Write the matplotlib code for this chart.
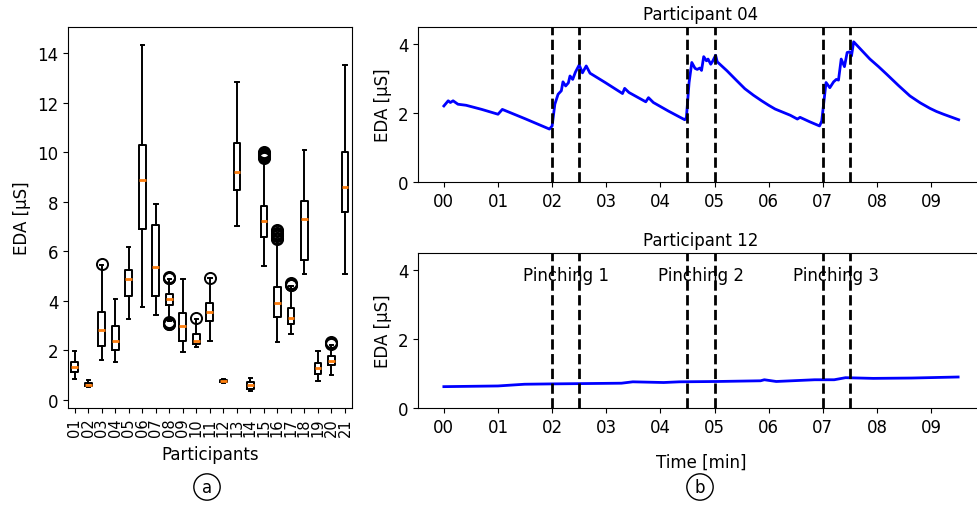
import matplotlib
matplotlib.use("Agg")
import matplotlib.pyplot as plt

# ---- (a) per-participant EDA box stats ----
participants = ["01", "02", "03", "04", "05", "06", "07", "08", "09", "10", "11",
                "12", "13", "14", "15", "16", "17", "18", "19", "20", "21"]
q1 = [1.14, 0.55, 2.19, 2.03, 4.19, 6.90, 4.19, 3.81, 2.39, 2.27, 3.19,
      0.70, 8.48, 0.44, 6.58, 3.36, 3.07, 5.66, 1.06, 1.40, 7.60]
med = [1.33, 0.60, 2.82, 2.38, 4.86, 8.89, 5.36, 4.05, 2.99, 2.39, 3.56,
       0.75, 9.20, 0.59, 7.21, 3.92, 3.29, 7.31, 1.28, 1.57, 8.61]
q3 = [1.54, 0.68, 3.54, 2.99, 5.26, 10.29, 7.04, 4.26, 3.52, 2.66, 3.89,
      0.80, 10.37, 0.72, 7.84, 4.55, 3.69, 8.03, 1.50, 1.77, 9.99]
whislo = [0.85, 0.50, 1.61, 1.54, 3.25, 3.76, 3.41, 3.20, 1.93, 2.12, 2.39,
          0.66, 7.03, 0.36, 5.40, 2.35, 2.64, 5.07, 0.77, 0.99, 5.09]
whishi = [1.97, 0.80, 5.45, 4.09, 6.17, 14.33, 7.89, 4.88, 4.89, 3.25, 4.90,
          0.85, 12.81, 0.90, 9.70, 6.45, 4.58, 10.10, 1.97, 2.22, 13.51]
fliers = [[], [], [5.50], [], [], [], [],
          [4.90, 4.93, 4.96, 3.05, 3.08, 3.11, 3.14],
          [], [3.29], [4.93], [], [], [],
          [9.78, 9.82, 9.86, 9.90, 9.94, 9.98, 10.02],
          [6.50, 6.55, 6.60, 6.65, 6.70, 6.75, 6.80, 6.85],
          [4.62, 4.65, 4.68, 4.71],
          [], [], [2.26, 2.30, 2.34], []]

# ---- (b) EDA traces ----
t04 = [0.00, 0.08, 0.12, 0.17, 0.26, 0.41, 0.70, 1.00, 1.08, 1.50, 1.95, 2.00,
       2.05, 2.11, 2.17, 2.20, 2.25, 2.30, 2.33, 2.38, 2.43, 2.50, 2.56, 2.63,
       2.70, 2.98, 3.30, 3.34, 3.42, 3.73, 3.78, 3.87, 4.15, 4.45, 4.48, 4.53,
       4.58, 4.64, 4.68, 4.73, 4.76, 4.80, 4.85, 4.88, 4.93, 4.97, 5.02, 5.05,
       5.23, 5.40, 5.56, 5.72, 5.87, 6.00, 6.12, 6.26, 6.40, 6.53, 6.58, 6.76,
       6.94, 6.98, 7.06, 7.13, 7.20, 7.25, 7.29, 7.34, 7.40, 7.45, 7.50, 7.53,
       7.57, 7.72, 7.87, 8.03, 8.18, 8.40, 8.61, 8.80, 8.98, 9.10, 9.23, 9.37,
       9.51]
eda04 = [2.21, 2.36, 2.31, 2.36, 2.26, 2.23, 2.11, 1.97, 2.11, 1.84, 1.54, 1.63,
         2.26, 2.55, 2.65, 2.91, 2.79, 2.88, 3.08, 2.98, 3.19, 3.40, 3.17, 3.37,
         3.16, 2.89, 2.57, 2.72, 2.60, 2.33, 2.45, 2.31, 2.06, 1.81, 1.87, 2.89,
         3.47, 3.30, 3.27, 3.31, 3.24, 3.64, 3.52, 3.57, 3.42, 3.52, 3.68, 3.49,
         3.23, 2.96, 2.71, 2.52, 2.36, 2.23, 2.12, 2.03, 1.94, 1.83, 1.88, 1.75,
         1.63, 1.77, 2.89, 2.74, 2.91, 2.98, 2.96, 3.57, 3.35, 3.76, 3.78, 3.66,
         4.07, 3.82, 3.57, 3.35, 3.13, 2.80, 2.50, 2.30, 2.14, 2.05, 1.97, 1.89,
         1.81]
t12 = [0.00, 1.00, 1.49, 2.00, 3.28, 3.49, 4.06, 4.35, 5.06, 5.85, 5.92, 6.14,
       6.85, 7.21, 7.42, 7.93, 8.64, 9.50]
eda12 = [0.62, 0.64, 0.69, 0.70, 0.72, 0.76, 0.74, 0.76, 0.77, 0.79, 0.82, 0.77,
         0.82, 0.82, 0.88, 0.86, 0.87, 0.90]
pinch_start = [2.0, 4.5, 7.0]
pinch_end = [2.5, 5.0, 7.5]
pinch_labels = ["Pinching 1", "Pinching 2", "Pinching 3"]
minute_ticks = list(range(10))

plt.rcParams["font.size"] = 12

fig = plt.figure(figsize=(9.77, 5.06), dpi=100)
ax_a = fig.add_axes([0.0696, 0.1917, 0.2904, 0.753])
ax_top = fig.add_axes([0.428, 0.638, 0.579, 0.3067])
ax_bot = fig.add_axes([0.428, 0.1917, 0.579, 0.3063])

# boxplot
stats = []
for i in range(len(participants)):
    stats.append({"med": med[i], "q1": q1[i], "q3": q3[i],
                  "whislo": whislo[i], "whishi": whishi[i],
                  "fliers": fliers[i], "label": participants[i]})
ax_a.bxp(stats, positions=range(1, len(participants) + 1),
         boxprops={"linewidth": 1.4}, whiskerprops={"linewidth": 1.4},
         capprops={"linewidth": 1.4}, medianprops={"linewidth": 2, "color": "C1"},
         flierprops={"marker": "o", "markersize": 8, "markeredgewidth": 1.4,
                     "markerfacecolor": "none", "markeredgecolor": "black"})
ax_a.set_xticks(range(1, len(participants) + 1))
ax_a.set_xticklabels(participants, rotation=90, fontsize=10.5)
ax_a.set_xlim(0.5, len(participants) + 0.5)
ax_a.set_ylim(-0.33, 15.05)
ax_a.set_yticks([0, 2, 4, 6, 8, 10, 12, 14])
ax_a.set_xlabel("Participants", labelpad=6)
ax_a.set_ylabel("EDA [µS]")

# traces
for ax, t, e, title in [(ax_top, t04, eda04, "Participant 04"),
                        (ax_bot, t12, eda12, "Participant 12")]:
    ax.plot(t, e, color="blue", linewidth=2)
    for s, f in zip(pinch_start, pinch_end):
        ax.axvline(s, color="black", linestyle="--", linewidth=2)
        ax.axvline(f, color="black", linestyle="--", linewidth=2)
    ax.set_xlim(-0.475, 9.975)
    ax.set_ylim(0, 4.5)
    ax.set_yticks([0, 2, 4])
    ax.set_xticks(minute_ticks)
    ax.set_xticklabels(["%02d" % m for m in minute_ticks])
    ax.set_ylabel("EDA [µS]")
    ax.set_title(title, fontsize=12, pad=6)

for s, f, lab in zip(pinch_start, pinch_end, pinch_labels):
    ax_bot.text((s + f) / 2, 3.85, lab, ha="center", va="center", fontsize=12)
ax_bot.set_xlabel("Time [min]", labelpad=12)

circ = dict(boxstyle="circle,pad=0.25", facecolor="white", edgecolor="black", linewidth=1)
fig.text(207 / 977, 1 - 488 / 506, "a", ha="center", va="center", fontsize=12, bbox=circ)
fig.text(700 / 977, 1 - 488 / 506, "b", ha="center", va="center", fontsize=12, bbox=circ)

fig.savefig("out.png", dpi=100)
